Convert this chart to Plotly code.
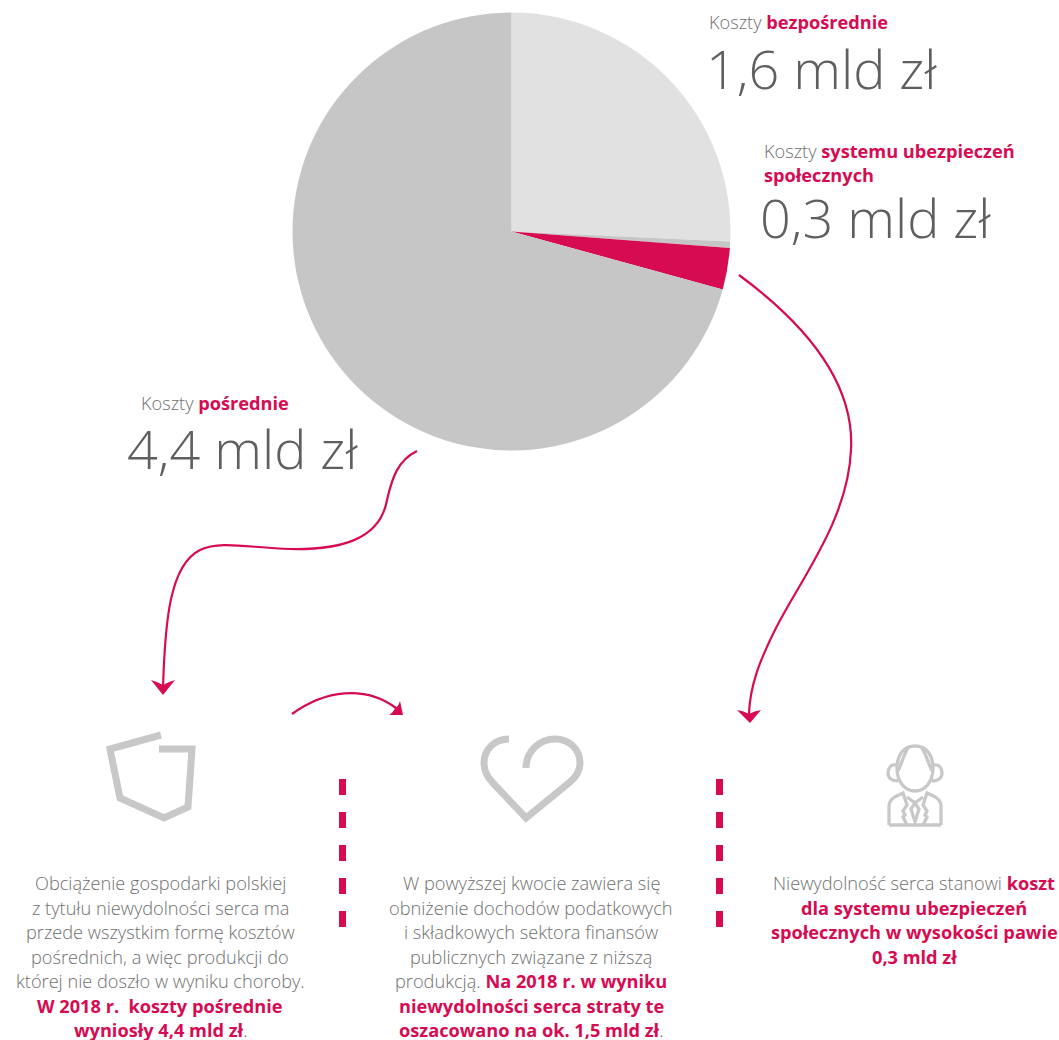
import plotly.graph_objects as go

# ---- data ----
slice_names = ["Koszty bezpośrednie", "inne", "Koszty systemu ubezpieczeń społecznych", "Koszty pośrednie"]
slice_values = [1.6, 0.03, 0.19, 4.4]
slice_colors = ["#e1e1e1", "#c6c6c6", "#d60b52", "#c6c6c6"]

CRIMSON = "#d60b52"
GREY = "#c8c8c8"
TXT = "#707070"
BIG = "#5f5f5f"
FONT = "Open Sans"


def b(s):
    return f'<span style="color:{CRIMSON};font-weight:700">{s}</span>'


# (x, y, text)
label_lines = [
    (707.5, 22, "Koszty " + b("bezpośrednie")),
    (762.5, 151, "Koszty " + b("systemu ubezpieczeń")),
    (762.5, 175, b("społecznych")),
    (140, 403, "Koszty " + b("pośrednie")),
]
big_lines = [
    (705, 68, "1,6 mld zł"),
    (759, 217, "0,3 mld zł"),
    (126, 448, "4,4 mld zł"),
]
col1 = ["Obciążenie gospodarki polskiej", "z tytułu niewydolności serca ma", "przede wszystkim formę kosztów",
        "pośrednich, a więc produkcji do", "której nie doszło w wyniku choroby.",
        b("W 2018 r.  koszty pośrednie"), b("wyniosły 4,4 mld zł") + "."]
col2 = ["W powyższej kwocie zawiera się", "obniżenie dochodów podatkowych", "i składkowych sektora finansów",
        "publicznych związane z niższą", "produkcją. " + b("Na 2018 r. w wyniku"),
        b("niewydolności serca straty te"), b("oszacowano na ok. 1,5 mld zł") + "."]
col3 = ["Niewydolność serca stanowi " + b("koszt"), b("dla systemu ubezpieczeń"),
        b("społecznych w wysokości pawie"), b("0,3 mld zł")]
col_centers = [160, 531, 914]
line_ys = [883, 907.5, 932, 956.5, 981, 1005.5, 1030]

W, H = 1059, 1040

fig = go.Figure()
fig.add_trace(go.Pie(
    labels=slice_names, values=slice_values, sort=False, direction="clockwise", rotation=0,
    marker=dict(colors=slice_colors, line=dict(width=0)), textinfo="none", hoverinfo="label+value",
    showlegend=False,
    domain=dict(x=[292.5 / W, 730.5 / W], y=[1 - 450.5 / H, 1 - 12.5 / H]),
))
fig.add_trace(go.Scatter(x=[0, W], y=[0, H], mode="markers", marker=dict(opacity=0), hoverinfo="skip", showlegend=False))

shapes = []


def stroke(path, color=GREY, width=7):
    shapes.append(dict(type="path", path=path, xref="x", yref="y", line=dict(color=color, width=width),
                       fillcolor="rgba(0,0,0,0)"))


def fill(path, color=CRIMSON):
    shapes.append(dict(type="path", path=path, xref="x", yref="y", line=dict(width=0), fillcolor=color))


# arrows
stroke("M417,451 C398,460 392,478 387,500 C380,540 340,550 290,549 C250,548 220,540 200,550 C170,565 165,620 163,688", CRIMSON, 2.2)
fill("M163,695 L151,680 Q158,682 163,685 Q168,682 175,680 Z")
stroke("M292,714 C325,690 365,685 396,708", CRIMSON, 2.2)
fill("M403,715 L400,701 Q398,707 395,708 Q393,713 389,715 Z")
stroke("M739,275 C800,320 855,380 851,450 C848,520 800,580 775,630 C760,660 750,685 749,714", CRIMSON, 2.2)
fill("M750,723 L737,710 Q744,711 749,714 Q754,711 761,710 Z")

# dashed separators
for x in (342.5, 719.5):
    shapes.append(dict(type="line", xref="x", yref="y", x0=x, x1=x, y0=779, y1=928,
                       line=dict(color=CRIMSON, width=7, dash="16px,17px")))

# shield
stroke("M161,735 L110,749 L120,798 L164,818 L188,807 L192,749 L159,749")
# heart
stroke("M509,739 C494,739 484,750 484,763 C484,772 488,778 493,783 L526,818 L570,782 C576,777 580,771 580,763 "
       "C580,749 569,739 555,739 C539,739 526,752 526,768")
# person
pw = 3.3
stroke("M915,746 C903,746 897,756 897,768 C897,782 905,791 915,791 C925,791 933,782 933,768 C933,756 927,746 915,746 Z", GREY, pw)
stroke("M897,772 C901,767 902,758 908,748", GREY, pw)
stroke("M933,772 C929,767 928,758 922,748", GREY, pw)
stroke("M896,765 C891,764 888,768 888,773 C888,778 892,781 898,781", GREY, pw)
stroke("M934,765 C939,764 942,768 942,773 C942,778 938,781 932,781", GREY, pw)
stroke("M889,825 L889,806 C889,799 896,796 903,793 L907,805 L903,811 L905,815 L903,817 L907,825", GREY, pw)
stroke("M941,825 L941,806 C941,799 934,796 927,793 L923,805 L927,811 L925,815 L927,817 L923,825", GREY, pw)
stroke("M889,825 L941,825", GREY, pw)
stroke("M907,797 L915,803 L923,797 M915,803 L911,809 L915,822 L919,809 Z", GREY, pw)

anns = []


def add(x, y, text, size, color=TXT, anchor="left"):
    anns.append(dict(x=x, y=y, xref="x", yref="y", text=text, showarrow=False, xanchor=anchor, yanchor="middle",
                     borderpad=0, font=dict(family=FONT, size=size, color=color, weight=300)))


for x, y, t in label_lines:
    add(x, y, t, 18.2)
for x, y, t in big_lines:
    add(x, y, t, 54, BIG)
for cx, lines in zip(col_centers, (col1, col2, col3)):
    for y, t in zip(line_ys, lines):
        add(cx, y, t, 18.2, TXT, "center")

fig.update_layout(
    width=W, height=H, margin=dict(l=0, r=0, t=0, b=0), paper_bgcolor="white", plot_bgcolor="white",
    xaxis=dict(range=[0, W], visible=False, fixedrange=True),
    yaxis=dict(range=[H, 0], visible=False, fixedrange=True),
    shapes=shapes, annotations=anns,
)
fig.write_html("out.html", config=dict(displayModeBar=False), post_script="document.body.style.margin='0';")
